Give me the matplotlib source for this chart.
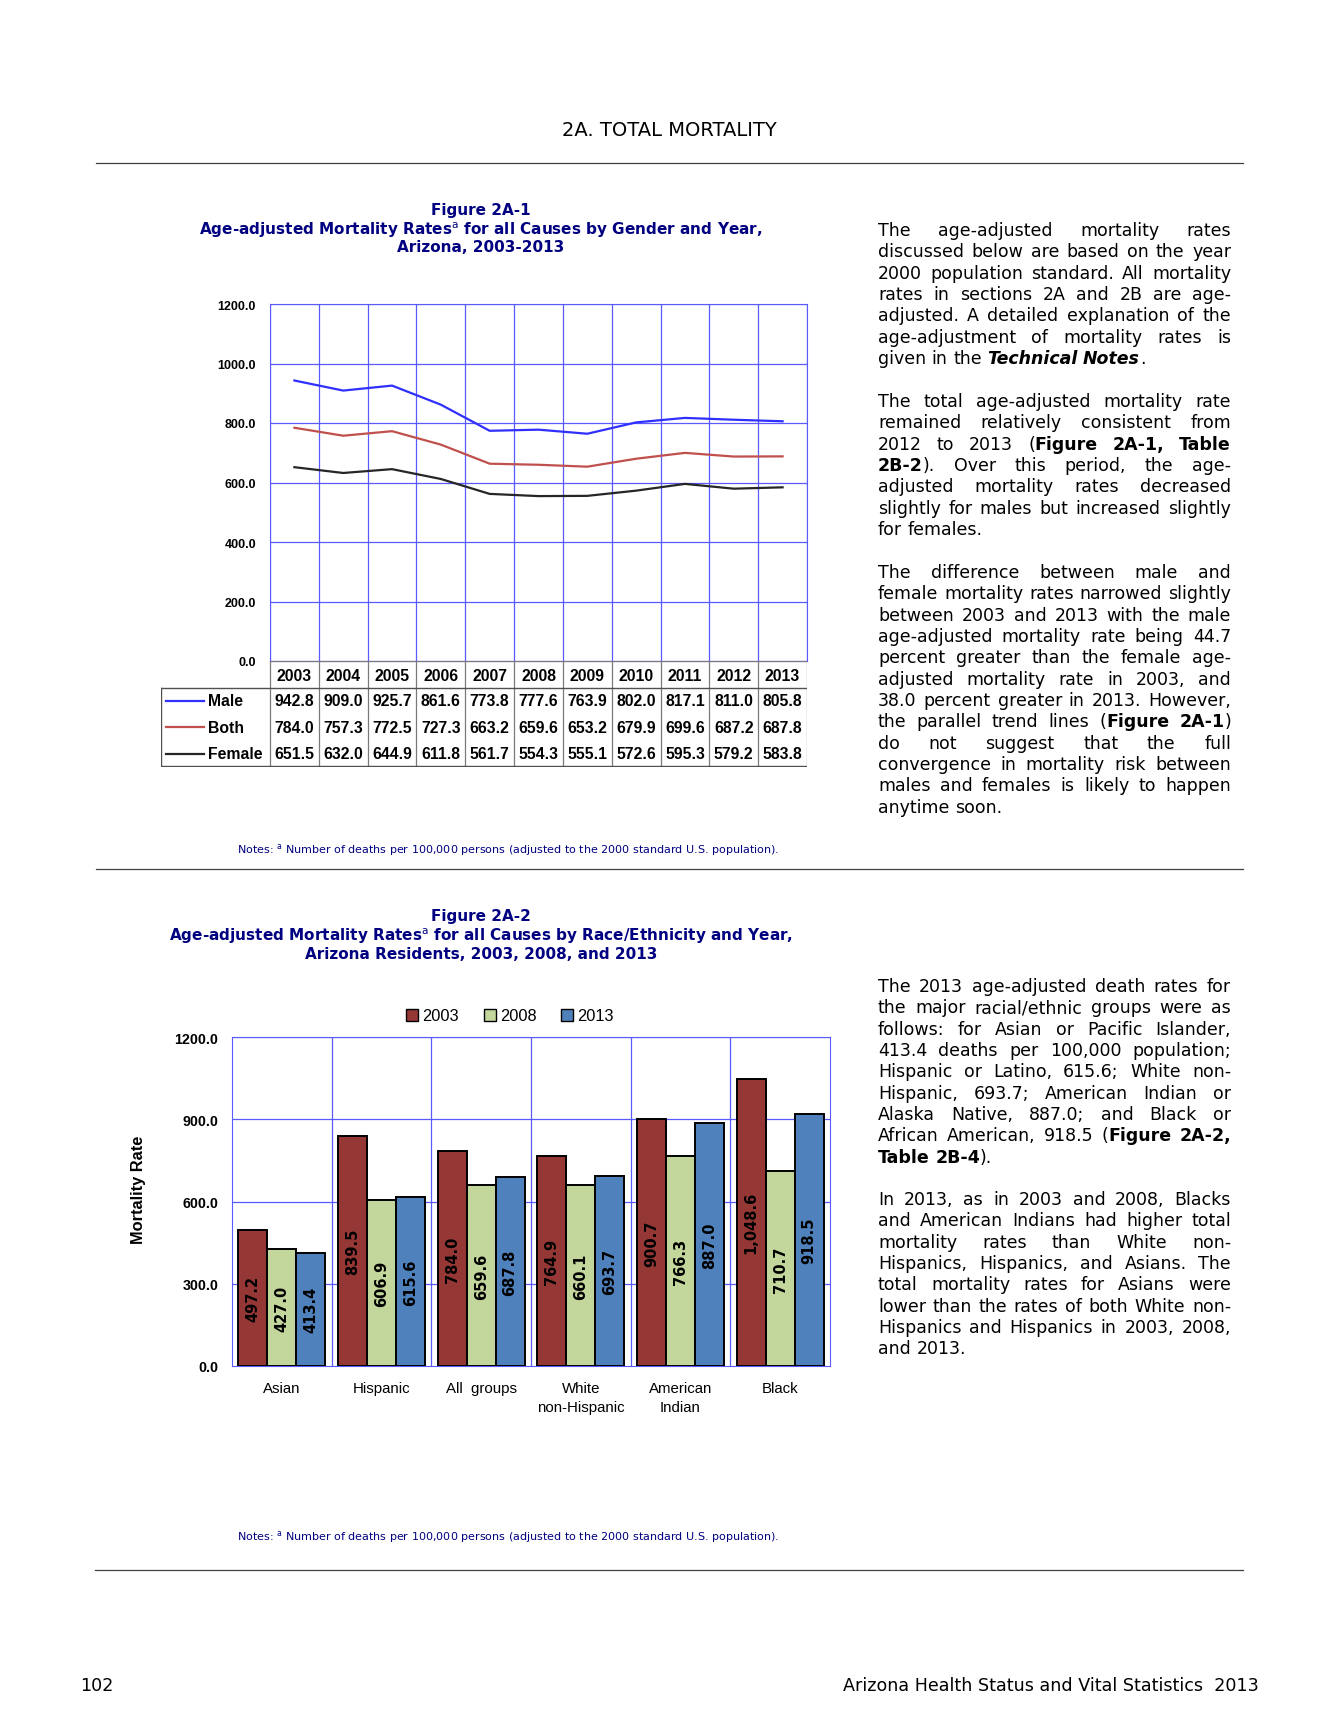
import matplotlib
matplotlib.use("Agg")
import matplotlib.pyplot as plt
import numpy as np
from matplotlib.lines import Line2D
from matplotlib.patches import Patch

plt.rcParams['mathtext.fontset'] = 'dejavusans'

# ---------------- data ----------------
years = [2003, 2004, 2005, 2006, 2007, 2008, 2009, 2010, 2011, 2012, 2013]
male = [942.8, 909.0, 925.7, 861.6, 773.8, 777.6, 763.9, 802.0, 817.1, 811.0, 805.8]
both = [784.0, 757.3, 772.5, 727.3, 663.2, 659.6, 653.2, 679.9, 699.6, 687.2, 687.8]
female = [651.5, 632.0, 644.9, 611.8, 561.7, 554.3, 555.1, 572.6, 595.3, 579.2, 583.8]
series_names = ['Male', 'Both', 'Female']

groups = ['Asian', 'Hispanic', 'All  groups', 'White\nnon-Hispanic', 'American\nIndian', 'Black']
r2003 = [497.2, 839.5, 784.0, 764.9, 900.7, 1048.6]
r2008 = [427.0, 606.9, 659.6, 660.1, 766.3, 710.7]
r2013 = [413.4, 615.6, 687.8, 693.7, 887.0, 918.5]
bar_years = ['2003', '2008', '2013']

para1 = ["The age-adjusted mortality rates",
         "discussed below are based on the year",
         "2000 population standard. All mortality",
         "rates in sections 2A and 2B are age-",
         "adjusted. A detailed explanation of the",
         "age-adjustment of mortality rates is",
         "given in the _*Technical Notes*_."]
para2 = ["The total age-adjusted mortality rate",
         "remained relatively consistent from",
         "2012 to 2013 (*Figure 2A-1, Table*",
         "*2B-2*). Over this period, the age-",
         "adjusted mortality rates decreased",
         "slightly for males but increased slightly",
         "for females."]
para3 = ["The difference between male and",
         "female mortality rates narrowed slightly",
         "between 2003 and 2013 with the male",
         "age-adjusted mortality rate being 44.7",
         "percent greater than the female age-",
         "adjusted mortality rate in 2003, and",
         "38.0 percent greater in 2013. However,",
         "the parallel trend lines (*Figure 2A-1*)",
         "do not suggest that the full",
         "convergence in mortality risk between",
         "males and females is likely to happen",
         "anytime soon."]
para4 = ["The 2013 age-adjusted death rates for",
         "the major racial/ethnic groups were as",
         "follows: for Asian or Pacific Islander,",
         "413.4 deaths per 100,000 population;",
         "Hispanic or Latino, 615.6; White non-",
         "Hispanic, 693.7; American Indian or",
         "Alaska Native, 887.0; and Black or",
         "African American, 918.5 (*Figure 2A-2,*",
         "*Table 2B-4*)."]
para5 = ["In 2013, as in 2003 and 2008, Blacks",
         "and American Indians had higher total",
         "mortality rates than White non-",
         "Hispanics, Hispanics, and Asians. The",
         "total mortality rates for Asians were",
         "lower than the rates of both White non-",
         "Hispanics and Hispanics in 2003, 2008,",
         "and 2013."]

# ---------------- page ----------------
W, H = 1338, 1731
fig = plt.figure(figsize=(W / 100, H / 100), dpi=100)
renderer = fig.canvas.get_renderer()

NAR = ['Liberation Sans Narrow', 'Liberation Sans', 'DejaVu Sans']
NAVY = '#000080'
GRID = '#5a5aff'


def fx(x):
    return x / W


def fy(y):
    return 1 - y / H


def box(l, t, r, b):
    return [l / W, 1 - b / H, (r - l) / W, (b - t) / H]


def rule(y, x0=96, x1=1243):
    fig.add_artist(Line2D([fx(x0), fx(x1)], [fy(y), fy(y)], color='#404040', lw=0.9))


fig.text(fx(669), fy(131), '2A. TOTAL MORTALITY', ha='center', va='center', fontsize=14)
rule(164)
rule(870)
rule(1571, 95)

note = 'Notes: $^{\\mathrm{a}}$ Number of deaths per 100,000 persons (adjusted to the 2000 standard U.S. population).'

# ---------------- Figure 2A-1 ----------------
for y, s in [(211, 'Figure 2A-1'),
             (230, 'Age-adjusted Mortality Rates$^{\\mathrm{a}}$ for all Causes by Gender and Year,'),
             (248, 'Arizona, 2003-2013')]:
    fig.text(fx(481), fy(y), s, ha='center', va='center', fontsize=11,
             fontweight='bold', color=NAVY)

ax1 = fig.add_axes(box(270, 305, 807, 662))
xi = np.arange(len(years))
line_colors = ['#2f2fff', '#c0504d', '#262626']
for vals, c in zip([male, both, female], line_colors):
    ax1.plot(xi, vals, color=c, lw=1.6, zorder=3)
ax1.set_xlim(-0.5, len(years) - 0.5)
ax1.set_ylim(0, 1200)
ax1.set_yticks(np.arange(0, 1201, 200))
ax1.set_yticklabels([f'{v:.1f}' for v in np.arange(0, 1201, 200)],
                    family=NAR, fontweight='bold', fontsize=9)
ax1.set_xticks([])
ax1.tick_params(length=0, pad=10)
for v in np.arange(0, 1201, 200):
    ax1.axhline(v, color=GRID, lw=0.9, zorder=1)
for b in np.arange(-0.5, len(years), 1):
    ax1.axvline(b, color=GRID, lw=0.9, zorder=1)
for sp in ax1.spines.values():
    sp.set_color(GRID)

# data table under the chart
cw = 537 / len(years)
lab_w = (270 - 161) / cw
axt = fig.add_axes(box(161, 662, 807, 768))
axt.set_xlim(-0.5 - lab_w, len(years) - 0.5)
axt.set_ylim(4, 0)
axt.axis('off')
TC = '#7a7a7a'
TFS = 11.3


def tx(px):
    return -0.5 + (px - 270) / cw


for b in np.arange(-0.5, len(years), 1):
    axt.plot([b, b], [0, 4], color=TC, lw=0.9)
axt.plot([-0.5, len(years) - 0.5], [0, 0], color=TC, lw=0.9)
axt.plot([-0.5 - lab_w, len(years) - 0.5], [1, 1], color='#505050', lw=1.0)
axt.plot([-0.5 - lab_w, len(years) - 0.5], [3.98, 3.98], color='#505050', lw=1.0)
axt.plot([-0.5 - lab_w + 0.01, -0.5 - lab_w + 0.01], [1, 4], color='#505050', lw=1.0)
for i, yr in enumerate(years):
    axt.text(i, 0.55, str(yr), ha='center', va='center', family=NAR,
             fontweight='bold', fontsize=TFS)
for r, (name, vals, c) in enumerate(zip(series_names, [male, both, female], line_colors)):
    yc = r + 1.5
    axt.plot([tx(166), tx(204)], [yc, yc], color=c, lw=1.6)
    axt.text(tx(208), yc, name, ha='left', va='center', family=NAR,
             fontweight='bold', fontsize=TFS)
    for i, v in enumerate(vals):
        axt.text(i, yc, f'{v:.1f}', ha='center', va='center', family=NAR,
                 fontweight='bold', fontsize=TFS)

fig.text(fx(237), fy(850), note, ha='left', va='center', fontsize=8.0, color=NAVY)

# ---------------- Figure 2A-2 ----------------
for y, s in [(917, 'Figure 2A-2'),
             (936, 'Age-adjusted Mortality Rates$^{\\mathrm{a}}$ for all Causes by Race/Ethnicity and Year,'),
             (955, 'Arizona Residents, 2003, 2008, and 2013')]:
    fig.text(fx(481), fy(y), s, ha='center', va='center', fontsize=11,
             fontweight='bold', color=NAVY)

ax2 = fig.add_axes(box(232, 1038, 830, 1367))
gx = np.arange(len(groups))
bw = 0.29
bar_colors = ['#953735', '#c3d69b', '#4f81bd']
for k, (vals, c) in enumerate(zip([r2003, r2008, r2013], bar_colors)):
    off = (k - 1) * bw
    ax2.bar(gx + off, vals, bw, color=c, edgecolor='black', lw=1.4, zorder=3)
    for xg, v in zip(gx, vals):
        ax2.text(xg + off, v / 2, f'{v:,.1f}', rotation=90, ha='center', va='center',
                 fontsize=10.5, fontweight='bold', zorder=4)
ax2.set_xlim(-0.5, len(groups) - 0.5)
ax2.set_ylim(0, 1200)
ax2.set_yticks(np.arange(0, 1201, 300))
ax2.set_yticklabels([f'{v:.1f}' for v in np.arange(0, 1201, 300)],
                    family=NAR, fontweight='bold', fontsize=10.3)
ax2.set_xticks(gx)
ax2.set_xticklabels(groups, family=NAR, fontsize=10.8, linespacing=1.4, color='black')
ax2.tick_params(length=0)
ax2.tick_params(axis='y', pad=10)
ax2.tick_params(axis='x', pad=11)
for v in np.arange(300, 1201, 300):
    ax2.axhline(v, color=GRID, lw=0.9, zorder=1)
for b in np.arange(0.5, len(groups) - 1, 1):
    ax2.axvline(b, color=GRID, lw=0.9, zorder=1)
for sp in ax2.spines.values():
    sp.set_color(GRID)

fig.text(fx(138), fy(1190), 'Mortality Rate', rotation=90, ha='center', va='center',
         family=NAR, fontweight='bold', fontsize=11.8)

handles = [Patch(facecolor=c, edgecolor='black', lw=1.0) for c in bar_colors]
fig.legend(handles, bar_years, loc='center', bbox_to_anchor=(fx(510), fy(1017)),
           ncol=3, frameon=False, handlelength=0.75, handleheight=0.75,
           handletextpad=0.25, columnspacing=1.5, prop={'family': NAR, 'size': 11.8})

fig.text(fx(237), fy(1537), note, ha='left', va='center', fontsize=8.0, color=NAVY)

# ---------------- footer ----------------
fig.text(fx(80), fy(1686), '102', ha='left', va='center', fontsize=12.6)
fig.text(fx(1259), fy(1686), 'Arizona Health Status and Vital Statistics  2013',
         ha='right', va='center', fontsize=12.6)

# ---------------- justified body text ----------------
X0, X1, LH = 878, 1231, 21.35


def parse_words(line):
    words = []
    bold = italic = False
    for token in line.split(' '):
        segs, buf = [], ''
        for ch in token:
            if ch in '*_':
                if buf:
                    segs.append((buf, bold, italic))
                    buf = ''
                if ch == '*':
                    bold = not bold
                else:
                    italic = not italic
            else:
                buf += ch
        if buf:
            segs.append((buf, bold, italic))
        words.append(segs)
    return words


def seg_width(s, b, it, size):
    t = fig.text(0, 0, s, fontsize=size, fontweight='bold' if b else 'normal',
                 fontstyle='italic' if it else 'normal')
    w = t.get_window_extent(renderer).width
    t.remove()
    return w


def natural_width(line, size):
    words = parse_words(line)
    ww = sum(seg_width(s, b, it, size) for segs in words for s, b, it in segs)
    return ww + (len(words) - 1) * size * 100 / 72 * 0.318


# pick the body size so the widest full line fills the column
base = 11.0
widest = max(natural_width(ln, base) for p in [para1, para2, para3, para4, para5] for ln in p[:-1])
BODY = base * (X1 - X0 - 2) / widest


def draw_para(lines, y0, size=BODY):
    space = size * 100 / 72 * 0.318
    for i, line in enumerate(lines):
        y = y0 + i * LH
        words = parse_words(line)
        arts, widths = [], []
        for segs in words:
            wa, ww = [], 0
            for s, b, it in segs:
                t = fig.text(0, fy(y), s, fontsize=size, va='baseline', ha='left',
                             fontweight='bold' if b else 'normal',
                             fontstyle='italic' if it else 'normal')
                w = t.get_window_extent(renderer).width
                wa.append((t, w))
                ww += w
            arts.append(wa)
            widths.append(ww)
        if i == len(lines) - 1 or len(words) == 1:
            gap = space
        else:
            gap = max((X1 - X0 - sum(widths)) / (len(words) - 1), space * 0.5)
        x = X0
        for wa in arts:
            for t, w in wa:
                t.set_x(fx(x))
                x += w
            x += gap


draw_para(para1, 236)
draw_para(para2, 407)
draw_para(para3, 578)
draw_para(para4, 992)
draw_para(para5, 1205)

fig.savefig('out.png', dpi=100)
